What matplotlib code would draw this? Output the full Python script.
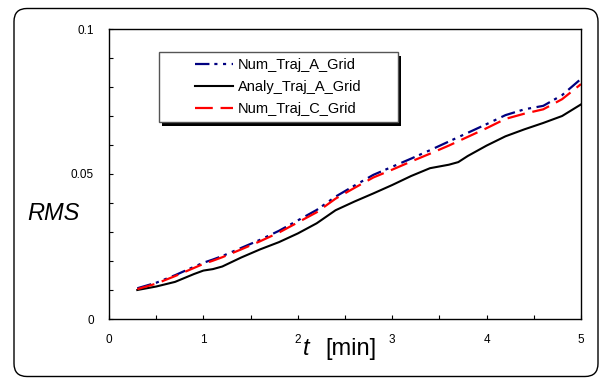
import numpy as np
import matplotlib
matplotlib.use('Agg')
import matplotlib.pyplot as plt
from matplotlib.patches import FancyBboxPatch, Rectangle
from matplotlib.ticker import MultipleLocator

plt.rcParams['font.family'] = ['Liberation Sans', 'DejaVu Sans']

# データ
t = [0.3, 0.5, 0.7, 0.9, 1.0, 1.1, 1.2, 1.4, 1.6, 1.8, 2.0, 2.2, 2.4, 2.6,
     2.8, 3.0, 3.2, 3.4, 3.6, 3.7, 3.8, 4.0, 4.2, 4.4, 4.6, 4.8, 5.0]
num_a = [0.0106, 0.0125, 0.0151, 0.0180, 0.0194, 0.0205, 0.0217, 0.0245, 0.0273,
         0.0304, 0.0340, 0.0376, 0.0422, 0.0460, 0.0497, 0.0525, 0.0553, 0.0582,
         0.0612, 0.0627, 0.0642, 0.0672, 0.0703, 0.0723, 0.0735, 0.0772, 0.0828]
analy_a = [0.0100, 0.0112, 0.0128, 0.0155, 0.0167, 0.0172, 0.0181, 0.0212, 0.0240,
           0.0265, 0.0295, 0.0330, 0.0375, 0.0405, 0.0433, 0.0462, 0.0493, 0.0520,
           0.0532, 0.0541, 0.0562, 0.0598, 0.0630, 0.0654, 0.0676, 0.0700, 0.0740]
num_c = [0.0103, 0.0122, 0.0148, 0.0176, 0.0190, 0.0201, 0.0213, 0.0240, 0.0268,
         0.0298, 0.0333, 0.0368, 0.0415, 0.0452, 0.0488, 0.0515, 0.0543, 0.0570,
         0.0598, 0.0613, 0.0628, 0.0658, 0.0690, 0.0708, 0.0723, 0.0758, 0.0810]
labels = ['Num_Traj_A_Grid', 'Analy_Traj_A_Grid', 'Num_Traj_C_Grid']

W, H = 600, 378
fig = plt.figure(figsize=(6, 3.78), dpi=100)
ax = fig.add_axes([109 / W, 1 - 319 / H, 472 / W, 290 / H])

l1, = ax.plot(t, num_a, color='#000080', lw=1.6, dashes=(6.5, 2.2, 1.4, 2.5, 1.4, 2.5))
l2, = ax.plot(t, analy_a, color='black', lw=1.5)
l3, = ax.plot(t, num_c, color='#ff0000', lw=1.6, dashes=(8, 3.5))

ax.set_xlim(0, 5)
ax.set_ylim(0, 0.1)
ax.xaxis.set_minor_locator(MultipleLocator(0.5))
ax.yaxis.set_minor_locator(MultipleLocator(0.01))
ax.set_xticks([0, 1, 2, 3, 4, 5])
ax.set_xticklabels(['0', '1', '2', '3', '4', '5'])
ax.set_yticks([0, 0.05, 0.1])
ax.set_yticklabels(['0', '0.05', '0.1'])
ax.tick_params(which='both', direction='in', length=3, width=0.8, labelsize=8.5)
ax.tick_params(axis='x', which='both', pad=11, top=False)
ax.tick_params(axis='y', which='both', pad=11, right=False)
for s in ax.spines.values():
    s.set_linewidth(1.0)

# 軸ラベル
fig.text(27 / W, 1 - 220 / H, 'RMS', fontsize=17, style='italic', va='baseline', ha='left')
fig.text(303 / W, 1 - 355 / H, 't', fontsize=17, style='italic', va='baseline', ha='left')
fig.text(325 / W, 1 - 355 / H, '[min]', fontsize=17, va='baseline', ha='left')

# 凡例の枠（影付き）, 表示座標（左下原点）
bx0, by0, bx1, by1 = 159, 52, 398, 122
fig.patches.append(Rectangle((bx0 + 3, H - by1 - 4), bx1 - bx0, by1 - by0, transform=None,
                             facecolor='black', edgecolor='none', zorder=5))
fig.patches.append(Rectangle((bx0, H - by1), bx1 - bx0, by1 - by0, transform=None,
                             facecolor='white', edgecolor='#555555', lw=1, zorder=6))

leg = ax.legend([l1, l2, l3], labels, loc='center',
                bbox_to_anchor=((bx0 + bx1) / 2 / W, 1 - (by0 + by1) / 2 / H),
                bbox_transform=fig.transFigure, frameon=False, fontsize=10.5,
                handlelength=2.6, handletextpad=0.34, labelspacing=0.55)
leg.set_zorder(7)
leg.remove()
fig.legends.append(leg)
leg.figure = fig

# 外枠（角丸）
frame = FancyBboxPatch((14 / 100, 1.5 / 100), 584 / 100, 368 / 100,
                       boxstyle='round,pad=0,rounding_size=0.13',
                       transform=fig.dpi_scale_trans, facecolor='none',
                       edgecolor='black', lw=1.0)
fig.patches.append(frame)

fig.savefig('out.png', dpi=100)
